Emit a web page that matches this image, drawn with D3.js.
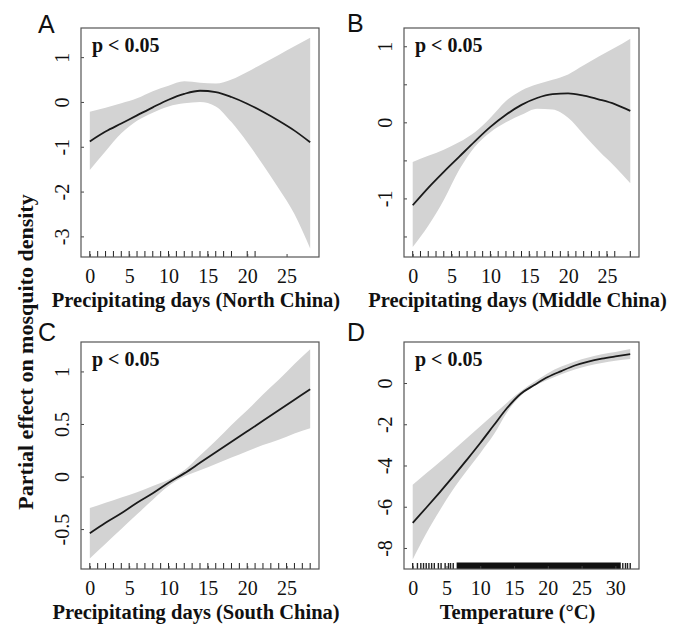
<!DOCTYPE html>
<html>
<head>
<meta charset="utf-8">
<script src="https://cdn.jsdelivr.net/npm/d3@7"></script>
<style>
body { margin: 0; background: #fff; }
</style>
</head>
<body>
<svg id="chart" width="675" height="625"></svg>
<script>
// precipitating days grid (panels A-C)
var precipX = [0, 2, 4, 6, 8, 10, 12, 14, 16, 18, 20, 22, 24, 26, 28];

// A: North China
var northFit   = [-0.88, -0.66, -0.48, -0.30, -0.12, 0.05, 0.18, 0.25, 0.22, 0.11, -0.04, -0.22, -0.42, -0.64, -0.90];
var northUpper = [-0.22, -0.13, -0.03, 0.08, 0.24, 0.36, 0.46, 0.43, 0.41, 0.50, 0.67, 0.86, 1.05, 1.24, 1.43];
var northLower = [-1.52, -1.10, -0.70, -0.42, -0.24, -0.10, -0.03, 0.00, -0.10, -0.45, -0.90, -1.40, -1.93, -2.50, -3.27];
var northRug   = [0, 1, 2, 3, 4, 5, 6, 7, 8, 9, 10, 11, 12, 13, 14, 15, 16, 17, 18, 20, 21];

// B: Middle China
var middleFit   = [-1.09, -0.86, -0.65, -0.45, -0.25, -0.06, 0.10, 0.23, 0.32, 0.37, 0.38, 0.35, 0.30, 0.24, 0.15];
var middleUpper = [-0.52, -0.44, -0.36, -0.26, -0.13, 0.06, 0.28, 0.42, 0.50, 0.56, 0.63, 0.75, 0.87, 0.98, 1.10];
var middleLower = [-1.64, -1.36, -1.02, -0.62, -0.32, -0.13, 0.00, 0.10, 0.18, 0.17, 0.06, -0.16, -0.38, -0.58, -0.80];
var middleRug   = [0, 1, 2, 3, 4, 5, 6, 7, 8, 9, 10, 11, 12, 13, 14, 15, 16, 17, 18, 19, 20, 21, 22, 23, 24, 25, 26, 28];

// C: South China
var southFit   = [-0.54, -0.44, -0.35, -0.25, -0.16, -0.06, 0.03, 0.13, 0.23, 0.33, 0.43, 0.53, 0.63, 0.73, 0.83];
var southUpper = [-0.30, -0.25, -0.20, -0.15, -0.09, -0.03, 0.06, 0.20, 0.34, 0.49, 0.63, 0.78, 0.92, 1.07, 1.21];
var southLower = [-0.78, -0.64, -0.50, -0.36, -0.22, -0.09, 0.00, 0.06, 0.12, 0.18, 0.24, 0.30, 0.35, 0.41, 0.46];
var southRug   = [0, 1, 2, 3, 4, 5, 6, 7, 8, 9, 10, 11, 12, 13, 14, 15, 16, 17, 18, 19, 20, 21, 22, 23, 24, 25, 26, 27, 28];

// D: temperature
var tempX     = [0, 2, 4, 6, 8, 10, 12, 14, 16, 18, 20, 22, 24, 26, 28, 30, 32.2];
var tempFit   = [-6.78, -6.05, -5.30, -4.53, -3.73, -2.91, -2.05, -1.20, -0.52, -0.10, 0.29, 0.58, 0.85, 1.04, 1.18, 1.29, 1.40];
var tempUpper = [-4.93, -4.38, -3.83, -3.26, -2.68, -2.10, -1.52, -0.94, -0.40, 0.06, 0.48, 0.80, 1.05, 1.24, 1.39, 1.50, 1.65];
var tempLower = [-8.56, -7.30, -6.18, -5.15, -4.25, -3.40, -2.50, -1.40, -0.62, -0.15, 0.16, 0.43, 0.66, 0.84, 0.97, 1.08, 1.16];
var tempRug   = [0, 0.7, 1.2, 1.6, 2.0, 2.4, 2.8, 3.2, 3.8, 4.2, 4.8, 5.3, 5.6, 6.0, 31.1, 31.5, 31.8, 32.2];
var tempRugBlocks = [[6.5, 30.8]];

var precipTicks = [0, 5, 10, 15, 20, 25];
var tempTicks = [0, 5, 10, 15, 20, 25, 30];

var serif = "'Liberation Serif', 'Times New Roman', Times, serif";
var svg = d3.select("#chart");

var panels = [
  {letter: "A", lx: 38, ly: 33, left: 81, right: 319, top: 28, bottom: 257,
   xs: precipX, fit: northFit, upper: northUpper, lower: northLower, rug: northRug, blocks: [],
   xDomain: [-1.12, 29.12], yDomain: [-3.46, 1.65], xTicks: precipTicks,
   yTicks: [-3, -2, -1, 0, 1], yLabels: [-3, -2, -1, 0, 1],
   title: "Precipitating days (North China)"},
  {letter: "B", lx: 347, ly: 32, left: 404, right: 639, top: 28, bottom: 257,
   xs: precipX, fit: middleFit, upper: middleUpper, lower: middleLower, rug: middleRug, blocks: [],
   xDomain: [-1.12, 29.12], yDomain: [-1.77, 1.24], xTicks: precipTicks,
   yTicks: [-1.5, -1, -0.5, 0, 0.5, 1], yLabels: [-1, 0, 1],
   title: "Precipitating days (Middle China)"},
  {letter: "C", lx: 38, ly: 341, left: 81, right: 319, top: 342, bottom: 569,
   xs: precipX, fit: southFit, upper: southUpper, lower: southLower, rug: southRug, blocks: [],
   xDomain: [-1.12, 29.12], yDomain: [-0.88, 1.28], xTicks: precipTicks,
   yTicks: [-0.5, 0, 0.5, 1], yLabels: [-0.5, 0, 0.5, 1],
   title: "Precipitating days (South China)"},
  {letter: "D", lx: 347, ly: 341, left: 404, right: 639, top: 342, bottom: 569,
   xs: tempX, fit: tempFit, upper: tempUpper, lower: tempLower, rug: tempRug, blocks: tempRugBlocks,
   xDomain: [-1.29, 33.5], yDomain: [-9.02, 1.99], xTicks: tempTicks,
   yTicks: [-8, -6, -4, -2, 0], yLabels: [-8, -6, -4, -2, 0],
   title: "Temperature (\u00B0C)"}
];

panels.forEach(drawPanel);

function drawPanel(p) {
  var x = d3.scaleLinear().domain(p.xDomain).range([p.left, p.right]);
  var y = d3.scaleLinear().domain(p.yDomain).range([p.bottom, p.top]);
  var g = svg.append("g");

  var pts = p.xs.map(function(v, i) {
    return {x: v, fit: p.fit[i], hi: p.upper[i], lo: p.lower[i]};
  });

  var band = d3.area()
      .x(d => x(d.x))
      .y0(d => y(d.lo))
      .y1(d => y(d.hi))
      .curve(d3.curveMonotoneX);

  var line = d3.line()
      .x(d => x(d.x))
      .y(d => y(d.fit))
      .curve(d3.curveMonotoneX);

  g.append("path")
      .datum(pts)
      .attr("d", band)
      .attr("fill", "#d3d3d3");

  g.append("path")
      .datum(pts)
      .attr("d", line)
      .attr("fill", "none")
      .attr("stroke", "#1a1a1a")
      .attr("stroke-width", 1.8);

  // rug
  g.selectAll(".rug")
      .data(p.rug)
      .join("line")
      .attr("class", "rug")
      .attr("x1", d => x(d))
      .attr("x2", d => x(d))
      .attr("y1", p.bottom)
      .attr("y2", p.bottom - 6)
      .attr("stroke", "#222")
      .attr("stroke-width", p.blocks.length ? 1.4 : 1);

  g.selectAll(".rugblock")
      .data(p.blocks)
      .join("rect")
      .attr("class", "rugblock")
      .attr("x", d => x(d[0]))
      .attr("width", d => x(d[1]) - x(d[0]))
      .attr("y", p.bottom - 6.5)
      .attr("height", 6.5)
      .attr("fill", "#111");

  // x axis
  var xAxis = g.append("g")
      .attr("transform", "translate(0," + p.bottom + ")")
      .call(d3.axisBottom(x).tickValues(p.xTicks).tickSizeInner(-3).tickSizeOuter(0)
        .tickPadding(0).tickFormat(d => String(d)));
  xAxis.attr("font-family", null).attr("font-size", null);
  xAxis.select(".domain").remove();
  xAxis.selectAll("line").attr("stroke", "#444");
  xAxis.selectAll("text")
      .attr("y", 26)
      .attr("dy", null)
      .style("font-family", serif)
      .style("font-size", "20px")
      .attr("fill", "#111");

  // y axis, labels rotated like R
  var yAxis = g.append("g")
      .attr("transform", "translate(" + p.left + ",0)")
      .call(d3.axisLeft(y).tickValues(p.yTicks).tickSizeInner(-3).tickSizeOuter(0)
        .tickFormat(d => p.yLabels.indexOf(d) >= 0 ? String(d) : ""));
  yAxis.attr("font-family", null).attr("font-size", null);
  yAxis.select(".domain").remove();
  yAxis.selectAll("line").attr("stroke", "#444");
  yAxis.selectAll("text")
      .attr("x", 0)
      .attr("dy", null)
      .attr("text-anchor", "middle")
      .attr("transform", "translate(-12.5,0) rotate(-90)")
      .style("font-family", serif)
      .style("font-size", "20px")
      .attr("fill", "#111");

  // box
  g.append("rect")
      .attr("x", p.left)
      .attr("y", p.top)
      .attr("width", p.right - p.left)
      .attr("height", p.bottom - p.top)
      .attr("fill", "none")
      .attr("stroke", "#555")
      .attr("stroke-width", 1.2);

  g.append("text")
      .attr("x", p.left + 11)
      .attr("y", p.top + 24)
      .style("font-family", serif)
      .style("font-size", "20px")
      .style("font-weight", "bold")
      .attr("fill", "#111")
      .text("p < 0.05");

  g.append("text")
      .attr("x", (p.left + p.right) / 2 - 4)
      .attr("y", p.bottom + 50)
      .attr("text-anchor", "middle")
      .style("font-family", serif)
      .style("font-size", "20.5px")
      .style("font-weight", "bold")
      .attr("fill", "#111")
      .text(p.title);

  g.append("text")
      .attr("x", p.lx)
      .attr("y", p.ly)
      .style("font-family", "'Liberation Sans', Arial, sans-serif")
      .style("font-size", "25px")
      .attr("fill", "#111")
      .text(p.letter);
}

svg.append("text")
    .attr("transform", "translate(33,352) rotate(-90)")
    .attr("text-anchor", "middle")
    .style("font-family", serif)
    .style("font-size", "22px")
    .style("font-weight", "bold")
    .attr("fill", "#111")
    .text("Partial effect on mosquito density");
</script>
</body>
</html>
